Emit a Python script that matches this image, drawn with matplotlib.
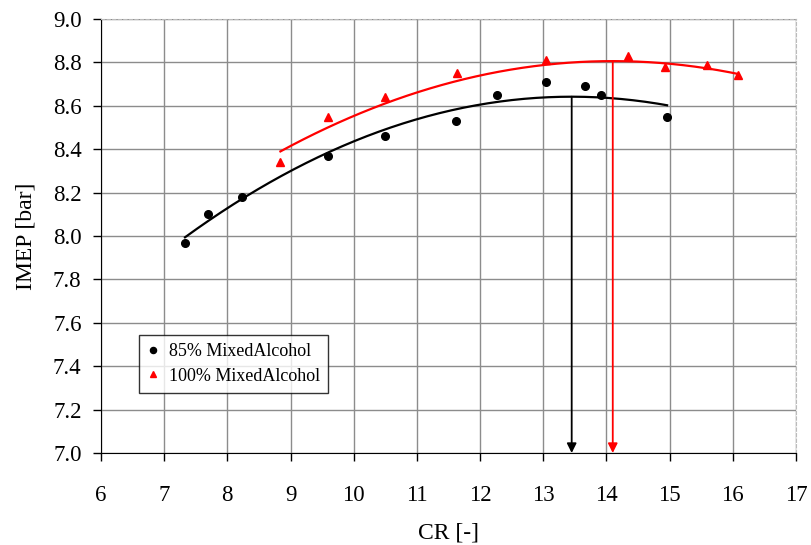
import numpy as np
import matplotlib.pyplot as plt

plt.rcParams['font.family'] = ['Liberation Serif', 'DejaVu Serif']

# CR [-] vs IMEP [bar]
cr_85 = [7.33, 7.69, 8.23, 9.59, 10.50, 11.62, 12.27, 13.05, 13.66, 13.91, 14.96]
imep_85 = [7.97, 8.10, 8.18, 8.37, 8.46, 8.53, 8.65, 8.71, 8.69, 8.65, 8.55]

cr_100 = [8.84, 9.59, 10.50, 11.63, 13.05, 14.34, 14.92, 15.59, 16.09]
imep_100 = [8.34, 8.55, 8.64, 8.75, 8.81, 8.83, 8.78, 8.79, 8.74]

# 2nd order trendlines as (curvature, CR at optimum, IMEP at optimum)
trend_85 = [-0.0173, 13.45, 8.642]
trend_100 = [-0.01504, 14.10, 8.806]

xticks = np.arange(6, 18, 1)
yticks = np.arange(7.0, 9.01, 0.2)


def trend_curve(x, tr):
    a, x0, y0 = tr
    xs = np.linspace(min(x), max(x), 200)
    return xs, y0 + a * (xs - x0) ** 2


fig = plt.figure(figsize=(8.11, 5.45), dpi=100)
ax = fig.add_axes([0.1245, 0.1688, 0.857, 0.7963])

ax.set_xlim(6, 17)
ax.set_ylim(7.0, 9.0)
ax.set_xticks(xticks)
ax.set_yticks(yticks)
ax.set_yticklabels(['%.1f' % v for v in yticks])
ax.grid(True, color='#8c8c8c', linewidth=1.0)
ax.set_axisbelow(True)

for x, tr, col in [(cr_85, trend_85, 'black'), (cr_100, trend_100, 'red')]:
    xs, ys = trend_curve(x, tr)
    ax.plot(xs, ys, color=col, linewidth=1.6, zorder=3)
    # arrow from the optimum down to the CR axis
    ax.annotate('', xy=(tr[1], 7.0), xytext=(tr[1], tr[2]),
                arrowprops=dict(arrowstyle='-|>', color=col, lw=1.3,
                                mutation_scale=14, shrinkA=0, shrinkB=0),
                zorder=4)

ax.plot(cr_85, imep_85, 'o', color='black', markersize=5.5, linestyle='none',
        label='85% MixedAlcohol', zorder=5)
ax.plot(cr_100, imep_100, '^', color='red', markersize=5.5, linestyle='none',
        label='100% MixedAlcohol', zorder=5)

for s in ['top', 'right']:
    ax.spines[s].set_color('#bbbbbb')
    ax.spines[s].set_linestyle((0, (3, 2)))
ax.spines['left'].set_color('black')
ax.spines['bottom'].set_color('black')
ax.tick_params(direction='out', length=6, width=1, labelsize=16.5, pad=8)
ax.tick_params(axis='x', pad=17)

ax.set_xlabel('CR [-]', fontsize=17, labelpad=12)
ax.set_ylabel('IMEP [bar]', fontsize=17, labelpad=12)

leg = ax.legend(loc='lower left', bbox_to_anchor=(0.055, 0.139), borderaxespad=0,
                fontsize=13, frameon=True, fancybox=False, edgecolor='black',
                handlelength=0.6, handletextpad=0.6, markerscale=0.8,
                borderpad=0.45, labelspacing=0.4)
leg.get_frame().set_linewidth(1.0)

fig.savefig('out.png', dpi=100)
